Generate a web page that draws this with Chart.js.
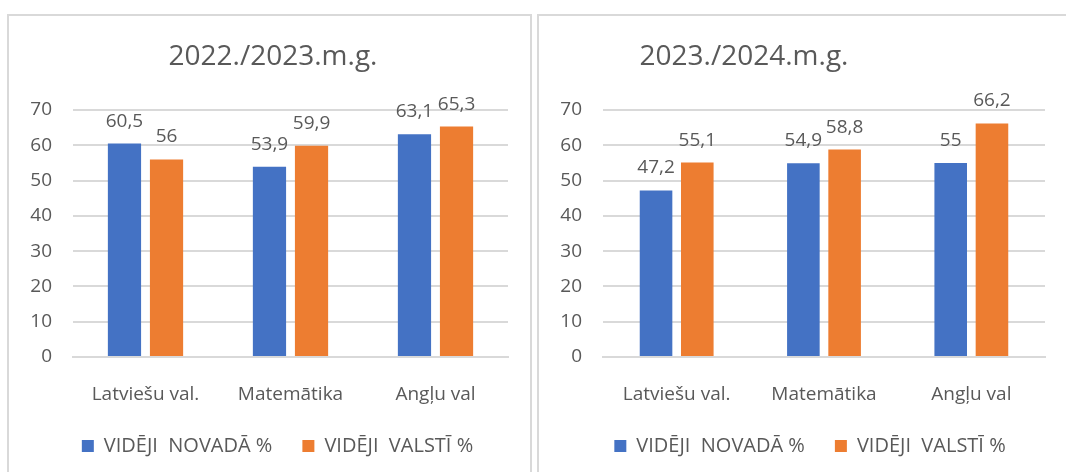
<!DOCTYPE html>
<html>
<head>
<meta charset="utf-8">
<script src="https://cdn.jsdelivr.net/npm/chart.js@4.4.1/dist/chart.umd.min.js"></script>
<style>
  body { margin: 0; background: #fff; width: 1066px; height: 472px; overflow: hidden; position: relative; }
  .box { position: absolute; border: 2px solid #d9d9d9; background: #fff; }
  #box1 { left: 7px; top: 14px; width: 521px; height: 480px; }
  #box2 { left: 537px; top: 14px; width: 560px; height: 480px; }
  canvas { position: absolute; }
  #chart1 { left: 9px; top: 16px; }
  #chart2 { left: 539px; top: 16px; }
</style>
</head>
<body>
<div class="box" id="box1"></div>
<div class="box" id="box2"></div>
<canvas id="chart1" width="522" height="456"></canvas>
<canvas id="chart2" width="527" height="456"></canvas>
<script>
const subjects = ["Latviešu val.", "Matemātika", "Angļu val"];
const seriesNames = ["VIDĒJI  NOVADĀ %", "VIDĒJI  VALSTĪ %"];
const yTicks = [0, 10, 20, 30, 40, 50, 60, 70];

const title1 = "2022./2023.m.g.";
const novada1 = [60.5, 53.9, 63.1];
const valsti1 = [56, 59.9, 65.3];

const title2 = "2023./2024.m.g.";
const novada2 = [47.2, 54.9, 55];
const valsti2 = [55.1, 58.8, 66.2];

const barColors = ["#4472C4", "#ED7D31"];
const textColor = "#595959";
const gridColor = "#d9d9d9";
const fontFamily = "'Open Sans', 'Noto Sans', sans-serif";

// title drawn at a fixed x, like the hand-placed titles in the picture
const titleAt = {
  id: "titleAt",
  afterUpdate(chart, args, opts) {
    // nudge the legend sideways so it sits under the plot like in the picture
    if (chart.legend && opts.legendShift) {
      chart.legend.left += opts.legendShift;
      chart.legend.right += opts.legendShift;
    }
  },
  afterDraw(chart, args, opts) {
    const ctx = chart.ctx;
    ctx.save();
    ctx.font = "28px " + fontFamily;
    ctx.fillStyle = textColor;
    ctx.textAlign = "center";
    ctx.textBaseline = "middle";
    ctx.fillText(opts.text, opts.x, opts.y);
    ctx.restore();
  }
};

// value labels above each bar, with a decimal comma
const valueLabels = {
  id: "valueLabels",
  afterDatasetsDraw(chart) {
    const ctx = chart.ctx;
    ctx.save();
    ctx.font = "19px " + fontFamily;
    ctx.fillStyle = textColor;
    ctx.textAlign = "center";
    ctx.textBaseline = "alphabetic";
    chart.data.datasets.forEach(function(ds, i) {
      chart.getDatasetMeta(i).data.forEach(function(bar, j) {
        ctx.fillText(String(ds.data[j]).replace(".", ","), bar.x, bar.y - 17);
      });
    });
    ctx.restore();
  }
};

function drawChart(canvasId, title, titleX, novada, valsti, catPct, padRight, legendShift) {
  new Chart(canvasId, {
    type: "bar",
    data: {
      labels: subjects,
      datasets: [
        { label: seriesNames[0], data: novada, backgroundColor: barColors[0] },
        { label: seriesNames[1], data: valsti, backgroundColor: barColors[1] }
      ]
    },
    options: {
      responsive: false,
      animation: false,
      devicePixelRatio: 1,
      categoryPercentage: catPct,
      barPercentage: 0.79,
      layout: { padding: { top: 94, right: padRight, bottom: 6, left: 0 } },
      scales: {
        x: {
          grid: { display: false },
          border: { color: gridColor, width: 2 },
          ticks: { color: textColor, font: { family: fontFamily, size: 19 }, padding: 18, maxRotation: 0 },
          afterFit: function(scale) { scale.height = 49; }
        },
        y: {
          min: 0,
          max: 70,
          afterBuildTicks: function(scale) { scale.ticks = yTicks.map(v => ({ value: v })); },
          grid: { color: gridColor, lineWidth: 2, drawTicks: false },
          border: { display: false },
          ticks: { color: textColor, font: { family: fontFamily, size: 19 }, padding: 21 },
          afterFit: function(scale) { scale.width = 64; }
        }
      },
      plugins: {
        legend: {
          position: "bottom",
          labels: {
            color: textColor,
            font: { family: fontFamily, size: 20 },
            boxWidth: 12,
            boxHeight: 12,
            padding: 30
          }
        },
        tooltip: { enabled: false },
        titleAt: { text: title, x: titleX, y: 41, legendShift: legendShift }
      }
    },
    plugins: [titleAt, valueLabels]
  });
}

function init() {
  drawChart("chart1", title1, 264, novada1, valsti1, 0.58, 23, 19);
  drawChart("chart2", title2, 205, novada2, valsti2, 0.56, 21, 18);
}

init();
</script>
</body>
</html>
